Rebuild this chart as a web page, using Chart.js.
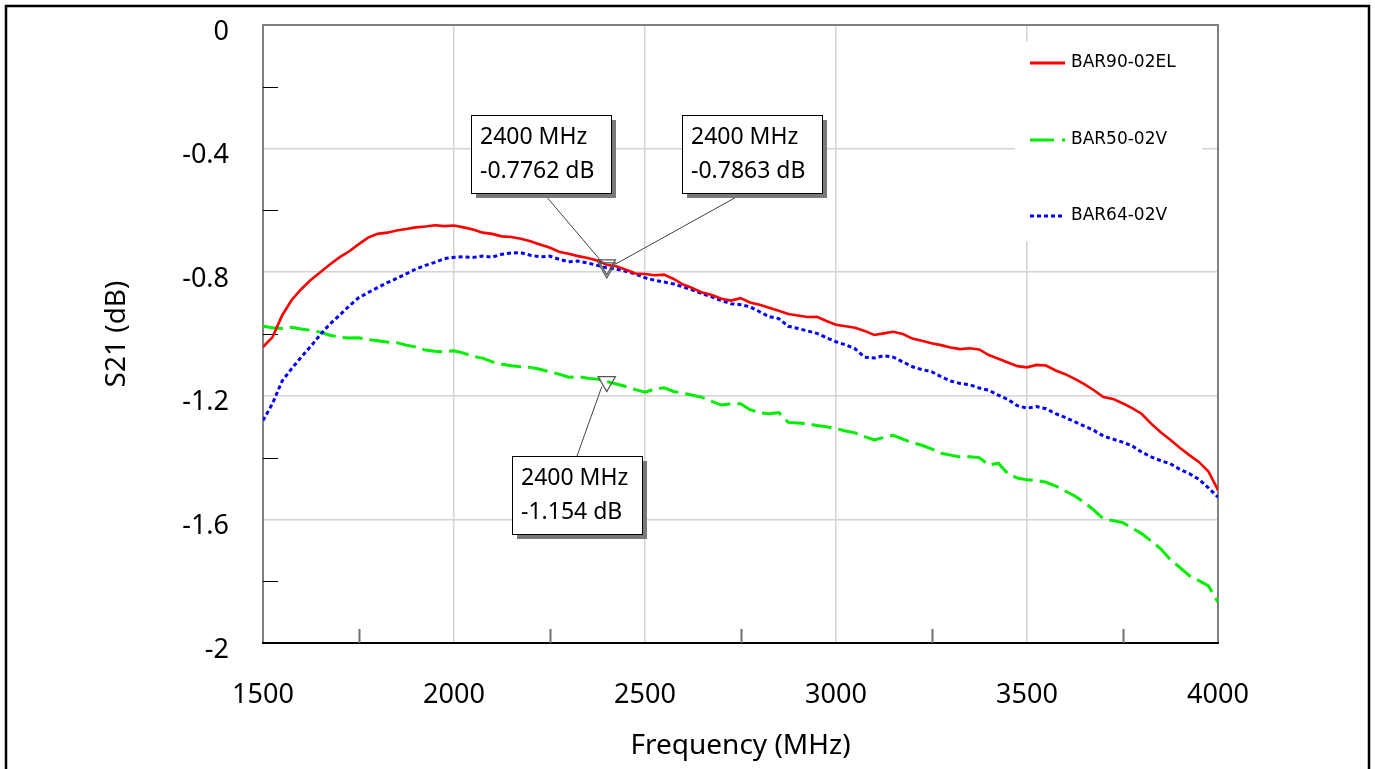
<!DOCTYPE html>
<html>
<head>
<meta charset="utf-8">
<script src="https://cdn.jsdelivr.net/npm/chart.js@4.4.0/dist/chart.umd.min.js"></script>
<style>
body { margin: 0; background: #fff; }
canvas { display: block; }
</style>
</head>
<body>
<canvas id="chart" width="1375" height="769"></canvas>
<script>
var freqs = [1500, 1525, 1550, 1575, 1600, 1625, 1650, 1675, 1700, 1725,
  1750, 1775, 1800, 1825, 1850, 1875, 1900, 1925, 1950, 1975,
  2000, 2025, 2050, 2075, 2100, 2125, 2150, 2175, 2200, 2225,
  2250, 2275, 2300, 2325, 2350, 2375, 2400, 2425, 2450, 2475,
  2500, 2525, 2550, 2575, 2600, 2625, 2650, 2675, 2700, 2725,
  2750, 2775, 2800, 2825, 2850, 2875, 2900, 2925, 2950, 2975,
  3000, 3025, 3050, 3075, 3100, 3125, 3150, 3175, 3200, 3225,
  3250, 3275, 3300, 3325, 3350, 3375, 3400, 3425, 3450, 3475,
  3500, 3525, 3550, 3575, 3600, 3625, 3650, 3675, 3700, 3725,
  3750, 3775, 3800, 3825, 3850, 3875, 3900, 3925, 3950, 3975, 4000];

var bar90 = [-1.042, -1.01, -0.94, -0.89, -0.855, -0.825, -0.80, -0.775, -0.752, -0.733,
  -0.71, -0.688, -0.676, -0.672, -0.665, -0.66, -0.655, -0.652, -0.648, -0.651,
  -0.649, -0.655, -0.662, -0.672, -0.676, -0.684, -0.686, -0.692, -0.70, -0.71,
  -0.72, -0.734, -0.74, -0.748, -0.754, -0.762, -0.776, -0.781, -0.792, -0.804,
  -0.806, -0.81, -0.808, -0.822, -0.84, -0.852, -0.866, -0.874, -0.886, -0.892,
  -0.884, -0.898, -0.905, -0.915, -0.925, -0.935, -0.94, -0.945, -0.944, -0.958,
  -0.97, -0.975, -0.98, -0.99, -1.003, -0.998, -0.993, -1.0, -1.015, -1.022,
  -1.03, -1.036, -1.044, -1.049, -1.046, -1.05, -1.068, -1.08, -1.092, -1.104,
  -1.108, -1.10, -1.102, -1.118, -1.13, -1.145, -1.162, -1.182, -1.204, -1.21,
  -1.224, -1.24, -1.258, -1.29, -1.318, -1.342, -1.368, -1.392, -1.414, -1.445, -1.505];

var bar50 = [-0.975, -0.98, -0.982, -0.978, -0.984, -0.988, -0.994, -1.004, -1.01, -1.013,
  -1.012, -1.018, -1.022, -1.026, -1.028, -1.036, -1.042, -1.052, -1.056, -1.058,
  -1.054, -1.062, -1.072, -1.078, -1.09, -1.098, -1.103, -1.106, -1.108, -1.114,
  -1.122, -1.13, -1.14, -1.138, -1.143, -1.146, -1.154, -1.162, -1.17, -1.18,
  -1.188, -1.178, -1.174, -1.186, -1.192, -1.198, -1.205, -1.218, -1.23, -1.226,
  -1.226, -1.245, -1.255, -1.258, -1.254, -1.286, -1.288, -1.29, -1.296, -1.30,
  -1.306, -1.314, -1.32, -1.332, -1.343, -1.335, -1.328, -1.34, -1.352, -1.36,
  -1.372, -1.386, -1.392, -1.398, -1.397, -1.40, -1.424, -1.418, -1.452, -1.466,
  -1.472, -1.474, -1.48, -1.492, -1.508, -1.524, -1.545, -1.57, -1.598, -1.604,
  -1.61, -1.628, -1.646, -1.67, -1.695, -1.73, -1.755, -1.782, -1.798, -1.815, -1.868];

var bar64 = [-1.28, -1.225, -1.152, -1.112, -1.075, -1.04, -1.002, -0.968, -0.94, -0.91,
  -0.883, -0.866, -0.85, -0.834, -0.82, -0.805, -0.79, -0.778, -0.768, -0.756,
  -0.752, -0.75, -0.752, -0.748, -0.751, -0.742, -0.738, -0.737, -0.745, -0.75,
  -0.748, -0.758, -0.766, -0.764, -0.77, -0.778, -0.786, -0.79, -0.797, -0.806,
  -0.818, -0.826, -0.832, -0.838, -0.848, -0.858, -0.87, -0.88, -0.892, -0.902,
  -0.905, -0.912, -0.928, -0.944, -0.95, -0.975, -0.982, -0.99, -0.998, -1.012,
  -1.025, -1.035, -1.048, -1.075, -1.078, -1.07, -1.075, -1.09, -1.106, -1.115,
  -1.122, -1.138, -1.152, -1.16, -1.164, -1.175, -1.182, -1.198, -1.212, -1.232,
  -1.24, -1.235, -1.242, -1.258, -1.27, -1.284, -1.298, -1.312, -1.33, -1.34,
  -1.35, -1.362, -1.382, -1.398, -1.41, -1.42, -1.438, -1.452, -1.47, -1.498, -1.528];

// markers: red, blue, green at 2400 MHz
var markerFreqs = [2400, 2400, 2400];
var markerVals = [-0.7762, -0.7863, -1.154];

var minorFreqs = [1750, 2250, 2750, 3250, 3750];
var minorDb = [-0.2, -0.6, -1.0, -1.4, -1.8];

var seriesNames = ['BAR90-02EL', 'BAR50-02V', 'BAR64-02V'];

function pts(vals) {
  return freqs.map(function(f, i) { return {x: f, y: vals[i]}; });
}

var markerPts = markerFreqs.map(function(f, i) { return {x: f, y: markerVals[i]}; });

// annotation boxes (pixel layout), leader line start on the box, end offset from marker
var notes = [
  {m: 0, box: [471, 115, 140, 78], from: [545, 195], dx: -5, dy: -3},
  {m: 1, box: [682, 115, 140, 78], from: [740, 195], dx: 9, dy: -4},
  {m: 2, box: [512, 456, 130, 78], from: [577, 456], dx: -5, dy: 5}
];

var legendItems = [
  {color: '#ff0000', dash: [], width: 3},
  {color: '#00ee00', dash: [24, 8], width: 3},
  {color: '#0000ff', dash: [4, 3], width: 3}
];

var decor = {
  id: 'decor',
  beforeDraw: function(chart) {
    var ctx = chart.ctx;
    ctx.save();
    ctx.fillStyle = '#fff';
    ctx.fillRect(0, 0, chart.width, chart.height);
    ctx.strokeStyle = '#000';
    ctx.lineWidth = 2.5;
    ctx.strokeRect(6, 6, chart.width - 12, chart.height + 20);
    ctx.restore();
  },
  beforeDatasetsDraw: function(chart) {
    var ctx = chart.ctx, a = chart.chartArea;
    var xs = chart.scales.x, ys = chart.scales.y;
    ctx.save();
    // legend background hides grid
    ctx.fillStyle = '#fff';
    ctx.fillRect(a.right - 203, a.top + 16, 187, 200);
    // frame
    ctx.strokeStyle = '#808080';
    ctx.lineWidth = 2;
    ctx.beginPath();
    ctx.moveTo(a.left, a.bottom);
    ctx.lineTo(a.left, a.top);
    ctx.lineTo(a.right, a.top);
    ctx.lineTo(a.right, a.bottom);
    ctx.stroke();
    ctx.strokeStyle = '#000';
    ctx.beginPath();
    ctx.moveTo(a.left - 1, a.bottom);
    ctx.lineTo(a.right + 1, a.bottom);
    ctx.stroke();
    // minor ticks
    ctx.strokeStyle = '#707070';
    ctx.lineWidth = 2;
    minorFreqs.forEach(function(f) {
      var px = Math.round(xs.getPixelForValue(f)) + 0.5;
      ctx.beginPath();
      ctx.moveTo(px, a.bottom);
      ctx.lineTo(px, a.bottom - 14);
      ctx.stroke();
    });
    ctx.strokeStyle = '#000';
    ctx.lineWidth = 1;
    minorDb.forEach(function(v) {
      var py = Math.round(ys.getPixelForValue(v)) + 0.5;
      ctx.beginPath();
      ctx.moveTo(a.left, py);
      ctx.lineTo(a.left + 15, py);
      ctx.stroke();
    });
    // legend
    ctx.font = '17px "DejaVu Sans"';
    ctx.textBaseline = 'middle';
    ctx.textAlign = 'left';
    var ly = [a.top + 38, a.top + 115, a.top + 191];
    legendItems.forEach(function(it, i) {
      ctx.strokeStyle = it.color;
      ctx.lineWidth = it.width;
      ctx.setLineDash(it.dash);
      ctx.beginPath();
      ctx.moveTo(a.right - 188, ly[i]);
      ctx.lineTo(a.right - 153, ly[i]);
      ctx.stroke();
      ctx.setLineDash([]);
      ctx.fillStyle = '#000';
      ctx.fillText(seriesNames[i], a.right - 147, ly[i]);
    });
    ctx.restore();
  },
  afterDatasetsDraw: function(chart) {
    var ctx = chart.ctx;
    var xs = chart.scales.x, ys = chart.scales.y;
    ctx.save();
    notes.forEach(function(n) {
      var px = xs.getPixelForValue(markerFreqs[n.m]);
      var py = ys.getPixelForValue(markerVals[n.m]);
      var b = n.box;
      ctx.strokeStyle = '#444';
      ctx.lineWidth = 1;
      ctx.beginPath();
      ctx.moveTo(n.from[0], n.from[1]);
      ctx.lineTo(px + n.dx, py + n.dy);
      ctx.stroke();
      ctx.fillStyle = '#7a7a7a';
      ctx.fillRect(b[0] + 5, b[1] + 5, b[2], b[3]);
      ctx.fillStyle = '#fff';
      ctx.fillRect(b[0], b[1], b[2], b[3]);
      ctx.strokeStyle = '#000';
      ctx.strokeRect(b[0] + 0.5, b[1] + 0.5, b[2], b[3]);
      ctx.fillStyle = '#000';
      ctx.font = '23px "Noto Sans"';
      ctx.textBaseline = 'middle';
      ctx.textAlign = 'left';
      var val = markerVals[n.m];
      var txt = (Math.abs(val) >= 1 ? val.toFixed(3) : val.toFixed(4)) + ' dB';
      ctx.fillText(markerFreqs[n.m] + ' MHz', b[0] + 9, b[1] + 22);
      ctx.fillText(txt, b[0] + 9, b[1] + 56);
    });
    ctx.restore();
  }
};

var ctx = document.getElementById('chart').getContext('2d');
new Chart(ctx, {
  type: 'line',
  data: {
    datasets: [{
      data: markerPts,
      showLine: false,
      pointStyle: 'triangle',
      rotation: 180,
      pointRadius: 10,
      pointBorderColor: '#555',
      pointBorderWidth: 1.2,
      pointBackgroundColor: 'rgba(0,0,0,0)',
      order: -1
    }, {
      label: seriesNames[0],
      data: pts(bar90),
      borderColor: '#ff0000',
      borderWidth: 2.6,
      pointRadius: 0,
      fill: false,
      order: 0
    }, {
      label: seriesNames[2],
      data: pts(bar64),
      borderColor: '#0000ff',
      borderWidth: 3,
      borderDash: [4, 3],
      pointRadius: 0,
      fill: false,
      order: 1
    }, {
      label: seriesNames[1],
      data: pts(bar50),
      borderColor: '#00ee00',
      borderWidth: 3,
      borderDash: [20, 7],
      pointRadius: 0,
      fill: false,
      order: 2
    }]
  },
  options: {
    responsive: false,
    animation: false,
    layout: { autoPadding: false, padding: { left: 100, top: 25, right: 157, bottom: 0 } },
    plugins: { legend: { display: false }, tooltip: { enabled: false } },
    scales: {
      x: {
        type: 'linear',
        min: 1500,
        max: 4000,
        afterFit: function(s) { s.height = 126; s.paddingLeft = 0; s.paddingRight = 0; },
        border: { display: false },
        grid: { color: '#d4d4d4', lineWidth: 1.5, drawTicks: false },
        ticks: {
          stepSize: 500,
          padding: 36,
          color: '#000',
          font: { family: '"Noto Sans"', size: 27 },
          maxRotation: 0,
          callback: function(v) { return String(v); }
        },
        title: {
          display: true,
          text: 'Frequency (MHz)',
          color: '#000',
          font: { family: '"Noto Sans"', size: 28 },
          padding: { top: 0, bottom: 6 }
        }
      },
      y: {
        min: -2,
        max: 0,
        afterFit: function(s) { s.width = 163; s.paddingTop = 0; s.paddingBottom = 0; },
        border: { display: false },
        grid: { color: '#d4d4d4', lineWidth: 1.5, drawTicks: false },
        ticks: {
          stepSize: 0.4,
          padding: 34,
          labelOffset: 7,
          color: '#000',
          font: { family: '"Noto Sans"', size: 27 },
          callback: function(v) { return String(Number(v.toFixed(1))); }
        },
        title: {
          display: true,
          text: 'S21 (dB)',
          color: '#000',
          font: { family: '"Noto Sans"', size: 28 },
          padding: { top: 0, bottom: 0 }
        }
      }
    }
  },
  plugins: [decor]
});
</script>
</body>
</html>
